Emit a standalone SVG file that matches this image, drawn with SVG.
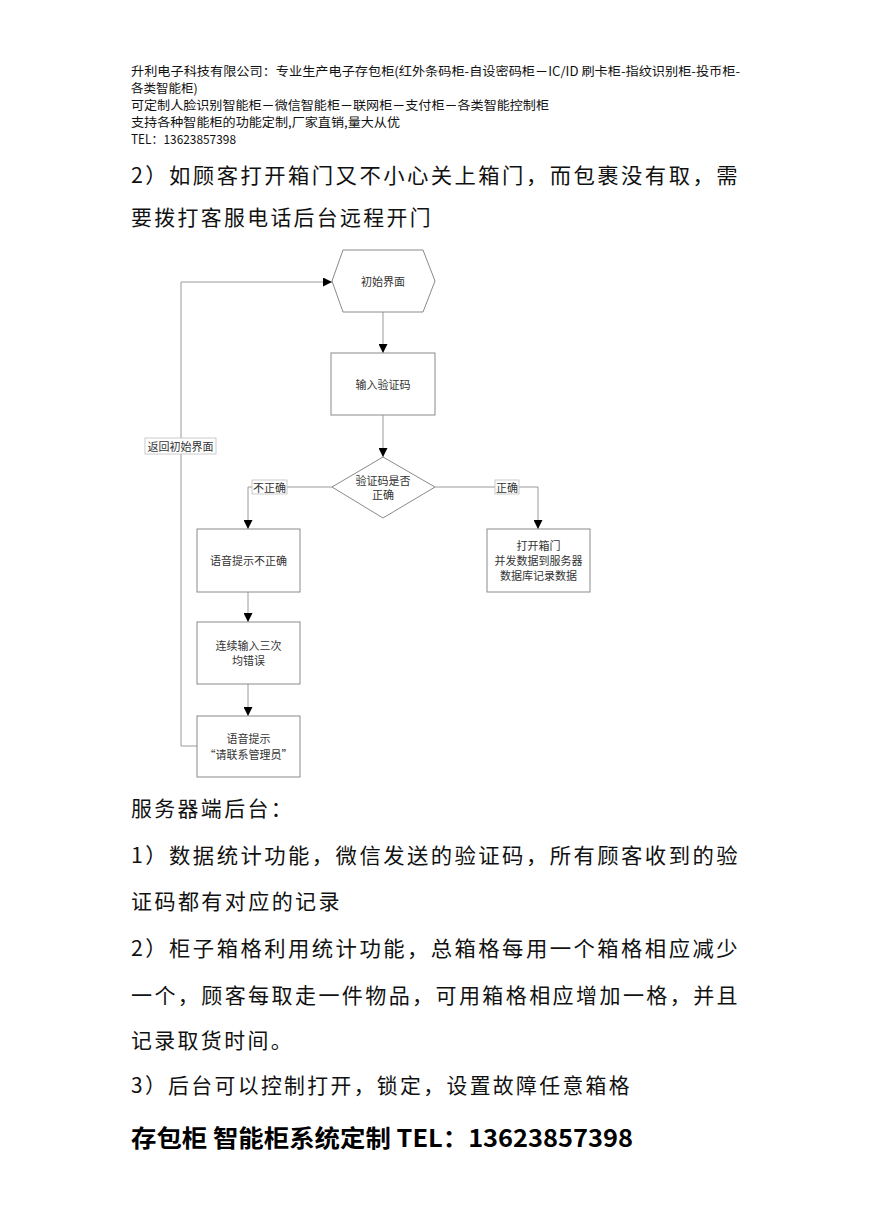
<svg xmlns="http://www.w3.org/2000/svg" width="869" height="1228" viewBox="0 0 869 1228">
<style>
.hd{font-family:"Noto Sans CJK SC","Liberation Sans",sans-serif;font-size:12.5px;fill:#111}
.bd{font-family:"Noto Sans CJK SC","Liberation Sans",sans-serif;font-size:21px;fill:#111;letter-spacing:2.4px}
.bb{font-family:"Noto Sans CJK SC","Liberation Sans",sans-serif;font-size:24px;font-weight:bold;fill:#000}
.nt{font-family:"Noto Sans CJK SC","Liberation Serif",serif;font-size:11px;fill:#333;text-anchor:middle;dominant-baseline:central}
.shape{fill:#fff;stroke:#8a8a8a;stroke-width:1}
.ln{fill:none;stroke:#9a9a9a;stroke-width:1}
.lbl{fill:#fff;stroke:#bdbdbd;stroke-width:0.8}
</style>
<defs>
<marker id="ah" markerUnits="userSpaceOnUse" markerWidth="9" markerHeight="9" refX="9" refY="4.5" orient="auto">
<path d="M0,0 L9,4.5 L0,9 z" fill="#000"/>
</marker>
</defs>
<rect width="869" height="1228" fill="#fff"/>

<g id="header">
<text class="hd" x="131" y="76" textLength="609" lengthAdjust="spacingAndGlyphs">升利电子科技有限公司：专业生产电子存包柜(红外条码柜-自设密码柜－IC/ID 刷卡柜-指纹识别柜-投币柜-</text>
<text class="hd" x="131" y="93">各类智能柜)</text>
<text class="hd" x="131" y="110" textLength="418" lengthAdjust="spacingAndGlyphs">可定制人脸识别智能柜－微信智能柜－联网柜－支付柜－各类智能控制柜</text>
<text class="hd" x="131" y="127" textLength="269" lengthAdjust="spacingAndGlyphs">支持各种智能柜的功能定制,厂家直销,量大从优</text>
<text class="hd" x="131" y="144" textLength="105" lengthAdjust="spacingAndGlyphs">TEL：13623857398</text>
</g>

<g id="intro">
<text class="bd" x="131" y="183" textLength="609" lengthAdjust="spacingAndGlyphs">2）如顾客打开箱门又不小心关上箱门，而包裹没有取，需</text>
<text class="bd" x="131" y="225" textLength="302" lengthAdjust="spacingAndGlyphs">要拨打客服电话后台远程开门</text>
</g>

<g id="connectors">
<path class="ln" d="M383,312 L383,353" marker-end="url(#ah)"/>
<path class="ln" d="M383,415 L383,457" marker-end="url(#ah)"/>
<path class="ln" d="M332,487 L248,487 L248,529" marker-end="url(#ah)"/>
<path class="ln" d="M435,487 L538,487 L538,529" marker-end="url(#ah)"/>
<path class="ln" d="M248,592 L248,622" marker-end="url(#ah)"/>
<path class="ln" d="M248,684 L248,716" marker-end="url(#ah)"/>
<path class="ln" d="M197,746 L181,746 L181,282 L332,282" marker-end="url(#ah)"/>
<g id="label-wrong">
<rect class="lbl" x="252" y="480" width="35" height="14"/>
<text class="nt" x="269.5" y="487">不正确</text>
</g>
<g id="label-right">
<rect class="lbl" x="495" y="480" width="24" height="14"/>
<text class="nt" x="507" y="487">正确</text>
</g>
<g id="label-return">
<rect class="lbl" x="145" y="438" width="71" height="16"/>
<text class="nt" x="180.5" y="446">返回初始界面</text>
</g>
</g>

<g id="n-start">
<polygon class="shape" points="332,281 343,250 423,250 435,281 423,312 343,312"/>
<text class="nt" x="383" y="281">初始界面</text>
</g>
<g id="n-input">
<rect class="shape" x="331" y="353" width="104" height="62"/>
<text class="nt" x="383" y="384">输入验证码</text>
</g>
<g id="n-check">
<polygon class="shape" points="383,457 435,487 383,518 332,487"/>
<text class="nt" x="383" y="480">验证码是否</text>
<text class="nt" x="383" y="494">正确</text>
</g>
<g id="n-wrong">
<rect class="shape" x="197" y="529" width="103" height="63"/>
<text class="nt" x="248.5" y="560">语音提示不正确</text>
</g>
<g id="n-open">
<rect class="shape" x="487" y="529" width="103" height="63"/>
<text class="nt" x="538.5" y="545">打开箱门</text>
<text class="nt" x="538.5" y="560">并发数据到服务器</text>
<text class="nt" x="538.5" y="575">数据库记录数据</text>
</g>
<g id="n-three">
<rect class="shape" x="197" y="622" width="103" height="62"/>
<text class="nt" x="248.5" y="645">连续输入三次</text>
<text class="nt" x="248.5" y="660">均错误</text>
</g>
<g id="n-admin">
<rect class="shape" x="197" y="716" width="103" height="61"/>
<text class="nt" x="248.5" y="738">语音提示</text>
<text class="nt" x="248.5" y="754">“请联系管理员”</text>
</g>

<g id="server">
<text class="bd" x="131" y="816" textLength="163" lengthAdjust="spacingAndGlyphs">服务器端后台：</text>
<text class="bd" x="131" y="863" textLength="609" lengthAdjust="spacingAndGlyphs">1）数据统计功能，微信发送的验证码，所有顾客收到的验</text>
<text class="bd" x="131" y="909" textLength="211" lengthAdjust="spacingAndGlyphs">证码都有对应的记录</text>
<text class="bd" x="131" y="956" textLength="609" lengthAdjust="spacingAndGlyphs">2）柜子箱格利用统计功能，总箱格每用一个箱格相应减少</text>
<text class="bd" x="131" y="1003" textLength="609" lengthAdjust="spacingAndGlyphs">一个，顾客每取走一件物品，可用箱格相应增加一格，并且</text>
<text class="bd" x="131" y="1048" textLength="163" lengthAdjust="spacingAndGlyphs">记录取货时间。</text>
<text class="bd" x="131" y="1093" textLength="501" lengthAdjust="spacingAndGlyphs">3）后台可以控制打开，锁定，设置故障任意箱格</text>
<text class="bb" x="131" y="1147" textLength="502" lengthAdjust="spacingAndGlyphs">存包柜 智能柜系统定制 TEL：13623857398</text>
</g>
</svg>
